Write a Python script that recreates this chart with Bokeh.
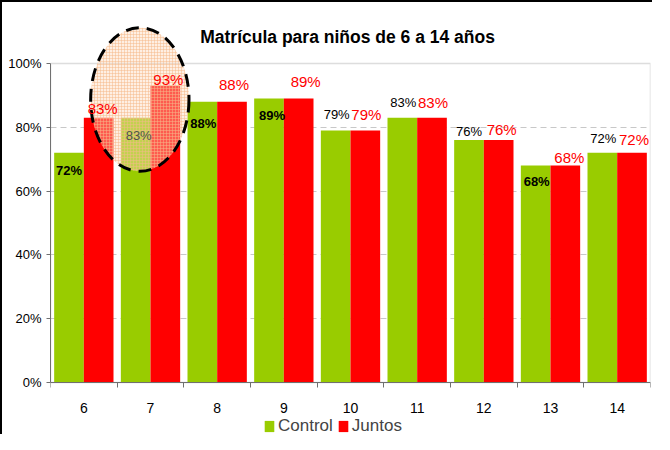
from bokeh.plotting import figure
from bokeh.models import (Range1d, FixedTicker, PrintfTickFormatter, ColumnDataSource,
                          Legend, LegendItem, BoxAnnotation)
from bokeh.core.properties import value
from bokeh.embed import file_html
from bokeh.resources import INLINE

# ---------------- data ----------------
ages = ["6", "7", "8", "9", "10", "11", "12", "13", "14"]
control = [72, 83, 88, 89, 79, 83, 76, 68, 72]
juntos = [83, 93, 88, 89, 79, 83, 76, 68, 72]
y_ticks = [0, 20, 40, 60, 80, 100]
title_text = "Matrícula para niños de 6 a 14 años"
series_names = ["Control", "Juntos"]
highlight_age = "7"

# ---------------- styling / label placement ----------------
FONT = "Liberation Sans"
GREEN = "#99CC00"
RED = "#FF0000"
BAR_W = 0.445
# pixel offsets of the value labels (positive = down / right)
ctrl_dx = [0, 3, 1, 3, 1, 1, 0, 1, 1]
ctrl_dy = [18, 18, 22, 17, -16, -15, -9, 16, -14]
ctrl_style = ["bold", "normal", "bold", "bold", "normal", "normal", "normal", "bold", "normal"]
ctrl_color = ["black", "#505050", "black", "black", "black", "black", "black", "black", "black"]
jun_dx = [4, 3, 2, 7, 1, 1, 3, 4, 2]
jun_dy = [-9, -6, -17, -17, -16, -15, -11, -8, -13]

n = len(ages)
centers = [i + 0.5 for i in range(n)]
ctrl_x = [c - BAR_W / 2 for c in centers]
jun_x = [c + BAR_W / 2 for c in centers]

src_c = ColumnDataSource(dict(x=ctrl_x, top=control, lab=[f"{v}%" for v in control],
                              dx=ctrl_dx, dy=ctrl_dy, st=ctrl_style, col=ctrl_color))
src_j = ColumnDataSource(dict(x=jun_x, top=juntos, lab=[f"{v}%" for v in juntos],
                              dx=jun_dx, dy=jun_dy))

# frame covers the full canvas height; 0 % sits at 380 px, 3.19 px per percent
p = figure(width=652, height=434, x_range=Range1d(0, n), y_range=Range1d(-16.9, 119.1),
           output_backend="svg", toolbar_location=None,
           min_border_left=48, min_border_right=4, min_border_top=0, min_border_bottom=0)
p.styles = {"border-top": "2px solid black", "border-left": "2px solid black"}
p.background_fill_color = "white"
p.border_fill_color = "white"
p.outline_line_color = None

# grid
p.xgrid.visible = False
p.ygrid.ticker = FixedTicker(ticks=y_ticks[1:-1])
p.ygrid.bounds = (0, 100)
p.ygrid.grid_line_color = "#C8C8C8"
p.ygrid.grid_line_dash = "6 4"
p.ygrid.grid_line_width = 1

# plot-area border (top/right)
p.add_layout(BoxAnnotation(left=0, right=n, bottom=0, top=100, fill_alpha=0,
                           line_color="#909090", line_width=1.5, level="underlay"))

# y axis
ya = p.yaxis[0]
ya.ticker = FixedTicker(ticks=y_ticks)
ya.formatter = PrintfTickFormatter(format="%d%%")
ya.bounds = (0, 100)
ya.axis_line_color = "#707070"
ya.major_tick_line_color = "#707070"
ya.major_tick_out = 4
ya.major_tick_in = 0
ya.minor_tick_line_color = None
ya.major_label_text_font = FONT
ya.major_label_text_font_size = "13px"
ya.major_label_text_color = "black"
ya.major_label_standoff = 5

# x axis, pinned at 0 %
xa = p.xaxis[0]
xa.fixed_location = 0
xa.ticker = FixedTicker(ticks=centers, minor_ticks=list(range(n + 1)))
xa.major_label_overrides = {c: a for c, a in zip(centers, ages)}
xa.axis_line_color = "#707070"
xa.major_tick_line_color = None
xa.minor_tick_line_color = "#707070"
xa.minor_tick_out = 5
xa.minor_tick_in = 0
xa.major_label_text_font = FONT
xa.major_label_text_font_size = "14px"
xa.major_label_text_color = "black"
xa.major_label_standoff = 14

# bars
r_c = p.vbar(x="x", top="top", width=BAR_W, bottom=0, source=src_c,
             fill_color=GREEN, line_color=None)
r_j = p.vbar(x="x", top="top", width=BAR_W, bottom=0, source=src_j,
             fill_color=RED, line_color=None)

# highlight ellipse around age 7
hi = ages.index(highlight_age)
p.ellipse(x=[hi + 0.5 - 0.16], y=[88.7], width=1.475, height=45,
          fill_color="#FCD9BC", fill_alpha=0.42,
          hatch_pattern="+", hatch_color="#F5B98A", hatch_alpha=0.5,
          hatch_scale=3, hatch_weight=1,
          line_color="black", line_width=3, line_dash="13 8")

# value labels
p.text(x="x", y="top", text="lab", x_offset="dx", y_offset="dy", source=src_c,
       text_font=value(FONT), text_font_size="13px", text_font_style="st",
       text_color="col", text_align="center", text_baseline="middle")
p.text(x="x", y="top", text="lab", x_offset="dx", y_offset="dy", source=src_j,
       text_font=value(FONT), text_font_size="15px",
       text_color=RED, text_align="center", text_baseline="middle")

# title (inside the canvas above the plot area)
p.text(x=[4.456], y=[108.2], text=[title_text], text_font=value(FONT),
       text_font_style="bold", text_font_size="17.5px", text_color="black",
       text_align="center", text_baseline="middle")

# legend
legend = Legend(items=[LegendItem(label=series_names[0], renderers=[r_c]),
                       LegendItem(label=series_names[1], renderers=[r_j])],
                orientation="horizontal", location=(213, 0),
                label_text_font=FONT, label_text_font_size="17px",
                glyph_width=12, glyph_height=14, label_standoff=3, spacing=4,
                border_line_color=None, background_fill_alpha=0,
                padding=1, margin=0)
p.add_layout(legend)

open("out.html", "w").write(file_html(p, INLINE))
